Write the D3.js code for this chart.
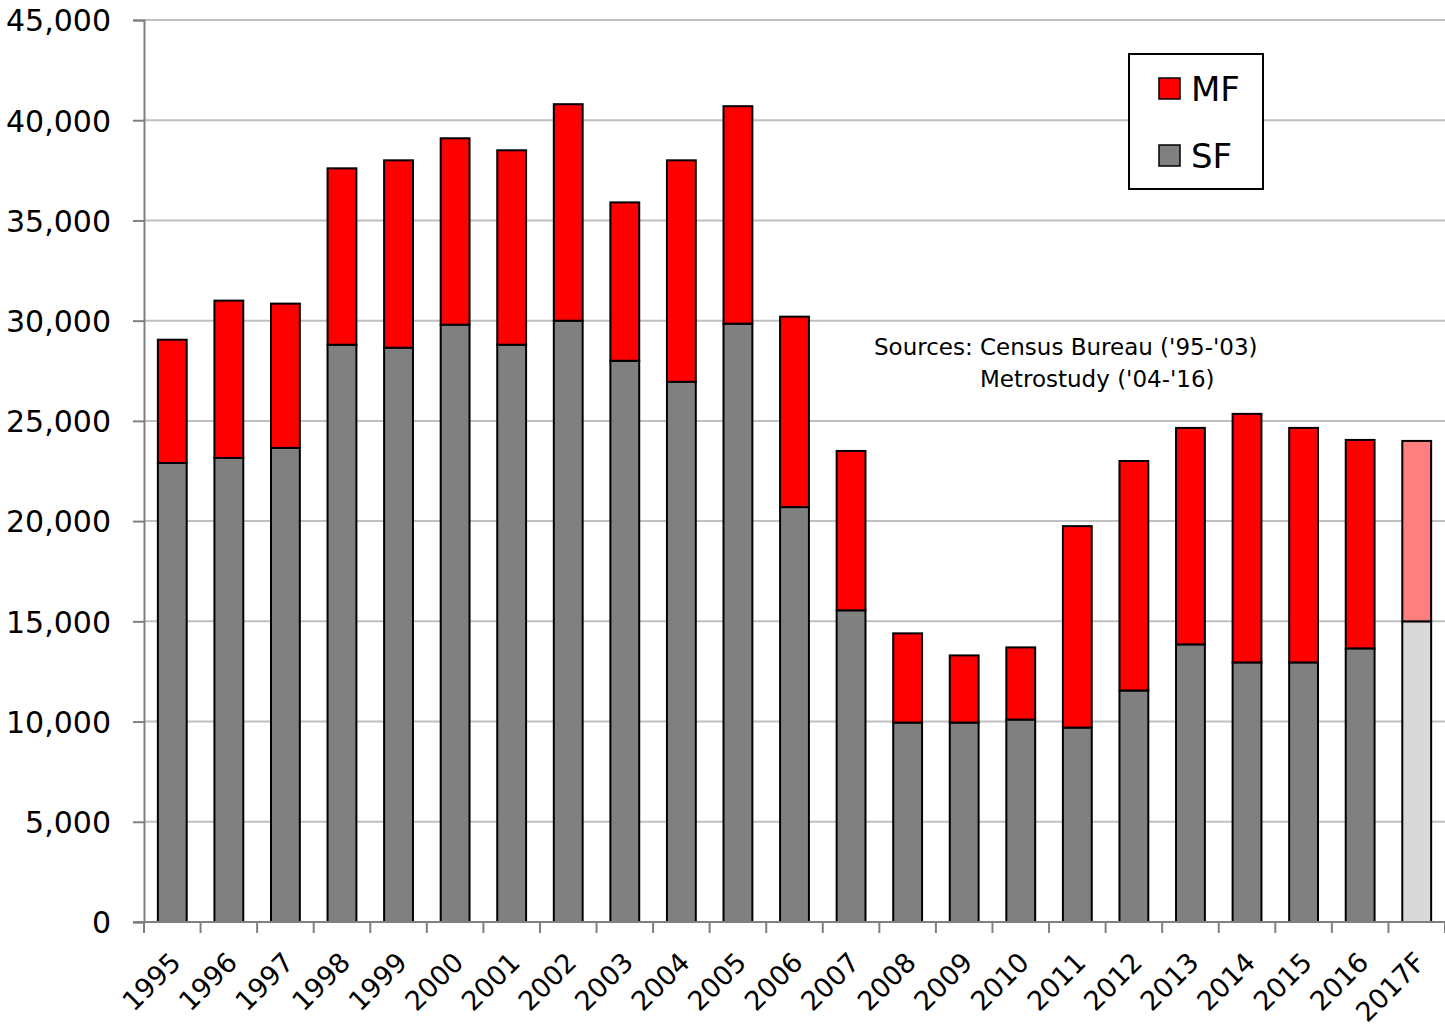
<!DOCTYPE html>
<html>
<head>
<meta charset="utf-8">
<script src="https://cdn.jsdelivr.net/npm/d3@7"></script>
<style>
  body { margin: 0; background: #fff; }
  svg text { font-family: "DejaVu Sans", sans-serif; fill: #000; }
</style>
</head>
<body>
<div id="chart"></div>
<script>
// housing permits by year, single family vs multi family
const years = ['1995','1996','1997','1998','1999','2000','2001','2002','2003','2004','2005','2006',
               '2007','2008','2009','2010','2011','2012','2013','2014','2015','2016','2017F'];
const sfValues = [22900, 23150, 23650, 28800, 28650, 29800, 28800, 30000, 28000, 26950, 29850, 20700,
                  15550, 9950, 9950, 10100, 9700, 11550, 13850, 12950, 12950, 13650, 15000];
const totalValues = [29050, 31000, 30850, 37600, 38000, 39100, 38500, 40800, 35900, 38000, 40700, 30200,
                     23500, 14400, 13300, 13700, 19750, 23000, 24650, 25350, 24650, 24050, 24000];
const yTicks = [0, 5000, 10000, 15000, 20000, 25000, 30000, 35000, 40000, 45000];

const data = years.map((y, i) => ({
  year: y,
  sf: sfValues[i],
  mf: totalValues[i] - sfValues[i],
  forecast: y.endsWith('F')
}));

const width = 1445, height = 1029;
const margin = { top: 20, right: 0, bottom: 107, left: 144 };

const svg = d3.select('#chart')
  .append('svg')
  .attr('width', width)
  .attr('height', height);

const x = d3.scaleBand()
  .domain(years)
  .range([margin.left, width - margin.right])
  .paddingInner(0.49)
  .paddingOuter(0.245);

const y = d3.scaleLinear()
  .domain([0, 45000])
  .range([height - margin.bottom, margin.top]);

// gridlines
svg.append('g')
  .selectAll('line')
  .data(yTicks.filter(d => d > 0))
  .enter()
  .append('line')
  .attr('x1', margin.left)
  .attr('x2', width)
  .attr('y1', d => y(d))
  .attr('y2', d => y(d))
  .attr('stroke', '#c0c0c0')
  .attr('stroke-width', 2);

// stacked bars
const stack = d3.stack().keys(['sf', 'mf'])(data);
const colors = {
  sf: d => d.forecast ? '#d9d9d9' : '#808080',
  mf: d => d.forecast ? '#ff7f7f' : '#ff0000'
};

stack.forEach(layer => {
  svg.append('g')
    .selectAll('rect')
    .data(layer)
    .enter()
    .append('rect')
    .attr('x', d => x(d.data.year))
    .attr('width', x.bandwidth())
    .attr('y', d => y(d[1]))
    .attr('height', d => y(d[0]) - y(d[1]))
    .attr('fill', d => colors[layer.key](d.data))
    .attr('stroke', '#000')
    .attr('stroke-width', 2);
});

// y axis
const yAxis = svg.append('g')
  .attr('transform', `translate(${margin.left},0)`)
  .call(d3.axisLeft(y).tickValues(yTicks).tickSize(11).tickPadding(22)
    .tickFormat(d3.format(',')));
yAxis.select('.domain').attr('stroke', '#808080').attr('stroke-width', 2);
yAxis.selectAll('.tick line').attr('stroke', '#808080').attr('stroke-width', 2);
yAxis.selectAll('.tick text').style('font-size', '30px').attr('dy', '0.36em');

// x axis, ticks on the band edges
const xAxisG = svg.append('g')
  .attr('transform', `translate(0,${y(0)})`);
xAxisG.append('line')
  .attr('x1', margin.left - 11)
  .attr('x2', width)
  .attr('stroke', '#808080')
  .attr('stroke-width', 2);
const step = x.step();
xAxisG.selectAll('.xtick')
  .data(d3.range(years.length + 1))
  .enter()
  .append('line')
  .attr('x1', i => margin.left + i * step)
  .attr('x2', i => margin.left + i * step)
  .attr('y1', 0)
  .attr('y2', 11)
  .attr('stroke', '#808080')
  .attr('stroke-width', 2);
xAxisG.selectAll('.xlabel')
  .data(years)
  .enter()
  .append('text')
  .attr('transform', d => `translate(${x(d) + x.bandwidth() / 2 + 10},${42}) rotate(-45)`)
  .attr('text-anchor', 'end')
  .style('font-size', '27px')
  .text(d => d);

// legend
const legend = svg.append('g').attr('transform', 'translate(1129,54)');
legend.append('rect')
  .attr('width', 134)
  .attr('height', 135)
  .attr('fill', '#fff')
  .attr('stroke', '#000')
  .attr('stroke-width', 2);
const legendItems = [
  { label: 'MF', color: '#ff0000', cy: 35 },
  { label: 'SF', color: '#808080', cy: 102 }
];
legendItems.forEach(item => {
  legend.append('rect')
    .attr('x', 30)
    .attr('y', item.cy - 11)
    .attr('width', 21)
    .attr('height', 21)
    .attr('fill', item.color)
    .attr('stroke', '#000')
    .attr('stroke-width', 1.5);
  legend.append('text')
    .attr('x', 62)
    .attr('y', item.cy)
    .attr('dy', '0.36em')
    .style('font-size', '34px')
    .text(item.label);
});

// source note
svg.append('text')
  .attr('x', 874)
  .attr('y', 355)
  .style('font-size', '23px')
  .text("Sources: Census Bureau ('95-'03)");
svg.append('text')
  .attr('x', 980)
  .attr('y', 387)
  .style('font-size', '23px')
  .text("Metrostudy ('04-'16)");
</script>
</body>
</html>
